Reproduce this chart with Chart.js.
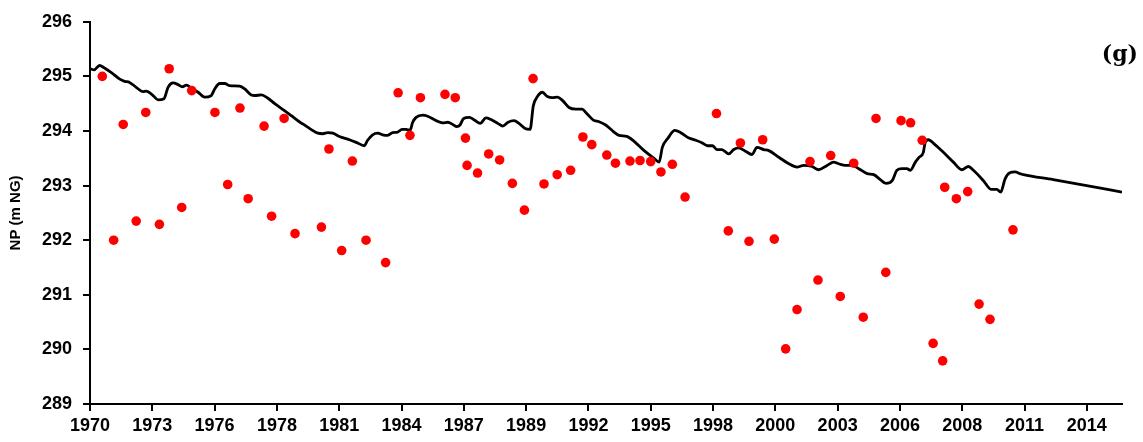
<!DOCTYPE html>
<html>
<head>
<meta charset="utf-8">
<script src="https://cdn.jsdelivr.net/npm/chart.js@4.4.1/dist/chart.umd.min.js"></script>
<style>
  body { margin: 0; background: #fff; }
  #wrap { width: 1143px; height: 442px; }
</style>
</head>
<body>
<div id="wrap"><canvas id="chart" width="1143" height="442"></canvas></div>
<script>
// date axis: one tick every 1000 days, labelled by year
const axisStart = 1970.65;
const axisEnd = 2016.0;
const tickStep = 1000 / 365.25;
const tickLabels = ['1970', '1973', '1976', '1978', '1981', '1984', '1987', '1989', '1992',
  '1995', '1998', '2000', '2003', '2006', '2008', '2011', '2014'];

// observed values (red dots)
const obsYears = [1971.19, 1971.69, 1972.11, 1972.68, 1973.10, 1973.70, 1974.13, 1974.68, 1975.12, 1976.14,
  1976.70, 1977.24, 1977.60, 1978.30, 1978.63, 1979.18, 1979.66, 1980.82, 1981.15, 1981.71,
  1982.18, 1982.78, 1983.64, 1984.19, 1984.71, 1985.17, 1986.25, 1986.70, 1987.15, 1987.22,
  1987.68, 1988.17, 1988.65, 1989.21, 1989.74, 1990.12, 1990.60, 1991.18, 1991.77, 1992.31,
  1992.70, 1993.36, 1993.74, 1994.38, 1994.82, 1995.29, 1995.74, 1996.24, 1996.80, 1998.18,
  1998.70, 1999.23, 1999.61, 2000.21, 2000.72, 2001.22, 2001.72, 2002.29, 2002.64, 2003.20,
  2003.62, 2004.21, 2004.63, 2005.19, 2005.62, 2006.29, 2006.71, 2007.22, 2007.70, 2008.12,
  2008.21, 2008.72, 2009.22, 2009.72, 2010.20, 2011.21];
const obsNP = [295.00, 292.00, 294.12, 292.35, 294.34, 292.29, 295.14, 292.60, 294.74, 294.34,
  293.02, 294.42, 292.76, 294.09, 292.44, 294.23, 292.12, 292.24, 293.67, 291.81,
  293.45, 292.00, 291.59, 294.70, 293.92, 294.61, 294.67, 294.61, 293.87, 293.37,
  293.23, 293.58, 293.47, 293.04, 292.55, 294.96, 293.03, 293.20, 293.28, 293.89,
  293.75, 293.56, 293.41, 293.45, 293.46, 293.44, 293.25, 293.39, 292.79, 294.32,
  292.17, 293.78, 291.98, 293.84, 292.02, 290.01, 290.73, 293.44, 291.27, 293.55,
  290.97, 293.41, 290.59, 294.23, 291.41, 294.19, 294.15, 293.83, 290.11, 289.79,
  292.97, 292.76, 292.89, 290.83, 290.55, 292.19];

// simulated values (black line)
const simYears = [1970.67, 1970.83, 1971.07, 1971.27, 1971.59, 1971.96, 1972.17, 1972.39, 1972.68, 1972.98,
  1973.12, 1973.42, 1973.64, 1973.90, 1974.08, 1974.30, 1974.52, 1974.71, 1974.88, 1975.10,
  1975.40, 1975.69, 1975.98, 1976.13, 1976.35, 1976.57, 1976.79, 1977.23, 1977.45, 1977.74,
  1977.89, 1978.18, 1978.47, 1978.77, 1979.21, 1979.50, 1979.88, 1980.00, 1980.36, 1980.66,
  1980.88, 1981.10, 1981.32, 1981.61, 1982.05, 1982.41, 1982.70, 1982.85, 1983.07, 1983.29,
  1983.51, 1983.73, 1983.95, 1984.17, 1984.36, 1984.54, 1984.71, 1984.83, 1984.98, 1985.27,
  1985.49, 1985.86, 1986.15, 1986.37, 1986.59, 1986.77, 1986.91, 1987.07, 1987.32, 1987.54,
  1987.80, 1988.05, 1988.27, 1988.57, 1988.79, 1989.02, 1989.28, 1989.50, 1989.75, 1989.99,
  1990.13, 1990.31, 1990.53, 1990.75, 1990.97, 1991.19, 1991.41, 1991.70, 1992.00, 1992.26,
  1992.50, 1992.77, 1993.02, 1993.31, 1993.65, 1993.90, 1994.24, 1994.56, 1995.00, 1995.44,
  1995.66, 1995.80, 1996.05, 1996.35, 1996.61, 1996.97, 1997.27, 1997.56, 1997.78, 1998.00,
  1998.20, 1998.42, 1998.72, 1998.94, 1999.16, 1999.45, 1999.74, 1999.96, 2000.26, 2000.48,
  2000.92, 2001.36, 2001.72, 2002.01, 2002.38, 2002.67, 2003.04, 2003.33, 2003.55, 2003.84,
  2004.14, 2004.43, 2004.80, 2005.09, 2005.38, 2005.63, 2005.90, 2006.11, 2006.33, 2006.55,
  2006.70, 2006.92, 2007.09, 2007.27, 2007.35, 2007.49, 2007.78, 2008.15, 2008.59, 2008.96,
  2009.25, 2009.47, 2009.91, 2010.25, 2010.50, 2010.67, 2010.86, 2011.05, 2011.30, 2011.52,
  2011.67, 2012.98, 2014.45, 2016.00];
const simNP = [295.14, 295.12, 295.20, 295.16, 295.07, 294.95, 294.91, 294.89, 294.80, 294.72,
  294.73, 294.65, 294.57, 294.59, 294.80, 294.88, 294.85, 294.81, 294.84, 294.79,
  294.71, 294.62, 294.65, 294.77, 294.87, 294.87, 294.83, 294.82, 294.77, 294.66,
  294.65, 294.66, 294.60, 294.50, 294.37, 294.28, 294.16, 294.13, 294.03, 293.96,
  293.95, 293.97, 293.96, 293.90, 293.84, 293.78, 293.73, 293.83, 293.93, 293.96,
  293.93, 293.92, 293.97, 293.98, 294.03, 294.03, 294.01, 294.16, 294.25, 294.29,
  294.27, 294.19, 294.15, 294.16, 294.12, 294.08, 294.11, 294.23, 294.25, 294.20,
  294.14, 294.24, 294.21, 294.14, 294.09, 294.16, 294.19, 294.14, 294.05, 294.03,
  294.46, 294.63, 294.71, 294.63, 294.61, 294.62, 294.56, 294.43, 294.40, 294.40,
  294.31, 294.20, 294.17, 294.11, 293.99, 293.92, 293.90, 293.81, 293.64, 293.50,
  293.43, 293.70, 293.87, 294.01, 293.97, 293.87, 293.83, 293.78, 293.73, 293.73,
  293.66, 293.66, 293.58, 293.66, 293.69, 293.63, 293.57, 293.70, 293.66, 293.64,
  293.52, 293.40, 293.34, 293.37, 293.35, 293.29, 293.37, 293.43, 293.40, 293.37,
  293.37, 293.31, 293.22, 293.20, 293.11, 293.04, 293.09, 293.28, 293.31, 293.31,
  293.28, 293.43, 293.52, 293.61, 293.79, 293.84, 293.75, 293.61, 293.43, 293.29,
  293.35, 293.28, 293.09, 292.93, 292.93, 292.88, 293.12, 293.23, 293.25, 293.22,
  293.20, 293.11, 293.00, 292.88];

const panelLabel = '(g)';

const toPoints = (xs, ys) => xs.map((x, i) => ({ x: x, y: ys[i] }));

const tickFont = { family: 'Liberation Sans', weight: 'bold', size: 18 };

// panel letter in the top right corner
const panelLabelPlugin = {
  id: 'panelLabel',
  afterDraw(chart) {
    const ctx = chart.ctx;
    ctx.save();
    ctx.font = 'bold 22px "DejaVu Serif"';
    ctx.fillStyle = '#000';
    ctx.textAlign = 'right';
    ctx.textBaseline = 'alphabetic';
    ctx.fillText(panelLabel, 1138, 61);
    ctx.restore();
  }
};

new Chart(document.getElementById('chart'), {
  type: 'scatter',
  data: {
    datasets: [
      {
        label: 'observed',
        data: toPoints(obsYears, obsNP),
        backgroundColor: '#ff0000',
        borderWidth: 0,
        pointRadius: 4.8,
        order: 0
      },
      {
        label: 'simulated',
        type: 'line',
        data: toPoints(simYears, simNP),
        borderColor: '#000',
        borderWidth: 2.8,
        pointRadius: 0,
        cubicInterpolationMode: 'monotone',
        fill: false,
        order: 1
      }
    ]
  },
  options: {
    responsive: false,
    animation: false,
    layout: { padding: { left: 0, top: 21, right: 21, bottom: 0 } },
    plugins: {
      legend: { display: false },
      tooltip: { enabled: false }
    },
    scales: {
      x: {
        type: 'linear',
        min: axisStart,
        max: axisEnd,
        afterFit(scale) { scale.height = 38; },
        afterBuildTicks(scale) {
          scale.ticks = tickLabels.map((t, i) => ({ value: axisStart + i * tickStep }));
        },
        ticks: {
          autoSkip: false,
          maxRotation: 0,
          padding: 4,
          color: '#000',
          font: tickFont,
          callback: (v, i) => tickLabels[i]
        },
        grid: { drawOnChartArea: false, drawTicks: true, tickLength: 7, color: '#000', lineWidth: 2 },
        border: { display: true, color: '#000', width: 2 }
      },
      y: {
        min: 289,
        max: 296,
        afterFit(scale) { scale.width = 90; },
        ticks: {
          stepSize: 1,
          padding: 11,
          color: '#000',
          font: tickFont
        },
        title: {
          display: true,
          text: 'NP (m NG)',
          color: '#000',
          font: { family: 'Liberation Sans', weight: 'bold', size: 15 },
          padding: { top: 7, bottom: 0 }
        },
        grid: { drawOnChartArea: false, drawTicks: true, tickLength: 7, color: '#000', lineWidth: 2 },
        border: { display: true, color: '#000', width: 2 }
      }
    }
  },
  plugins: [panelLabelPlugin]
});
</script>
</body>
</html>
